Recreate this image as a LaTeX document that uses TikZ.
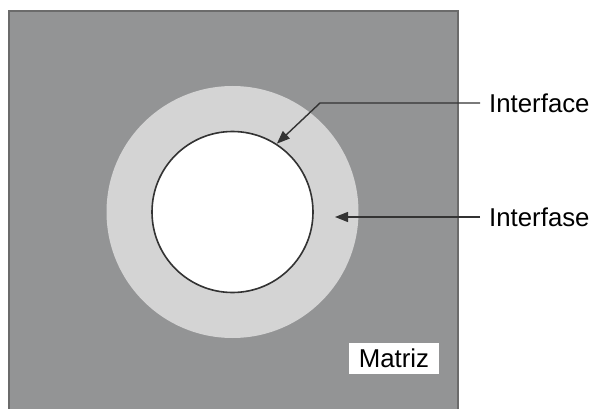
\documentclass[tikz,border=0pt]{standalone}
\usepackage{fontspec}
\setmainfont{Liberation Sans}
\usetikzlibrary{arrows.meta,calc}
\definecolor{matrixgray}{HTML}{939495}
\definecolor{edgegray}{HTML}{6B6B6B}
\definecolor{phasegray}{HTML}{D4D4D4}
\definecolor{inkgray}{HTML}{333333}
\tikzset{
  label text/.style={font=\fontsize{25.8}{28}\selectfont, inner sep=0pt, text=black},
  pointer/.style={draw=inkgray, line width=1.4pt, -{Triangle[length=13pt,width=10pt]}},
}
\begin{document}
\begin{tikzpicture}[x=1pt,y=1pt]
\useasboundingbox (0,0) rectangle (595,408);
\begin{scope}
  \clip (0,0) rectangle (595,408);
  % matrix block
  \fill[matrixgray] (9,-10) rectangle (458,397);
  \draw[edgegray, line width=2pt] (9,-10) -- (9,397) -- (458,397) -- (458,-10);
  % interphase ring and particle
  \coordinate (c) at (232.5,196);
  \fill[phasegray] (c) circle (126);
  \draw[inkgray, fill=white, line width=1.6pt] (c) circle (80.5);
\end{scope}
% labels
\node[label text, anchor=west] (iface) at (489,305) {Interface};
\node[label text, anchor=west] (iphase) at (489,191) {Interfase};
\node[label text, fill=white, minimum width=90pt, minimum height=31pt] (matriz) at (394,49.5) {Matriz};
% pointers
\coordinate (bend) at (320,305);
\coordinate (ifacetip) at ($(c)+(57:81.5)$);
\coordinate (iphasetip) at (335,191);
\draw[pointer] ([xshift=-9pt]iface.west) -- (bend) -- (ifacetip);
\draw[pointer] ([xshift=-9pt]iphase.west) -- (iphasetip);
\end{tikzpicture}
\end{document}
